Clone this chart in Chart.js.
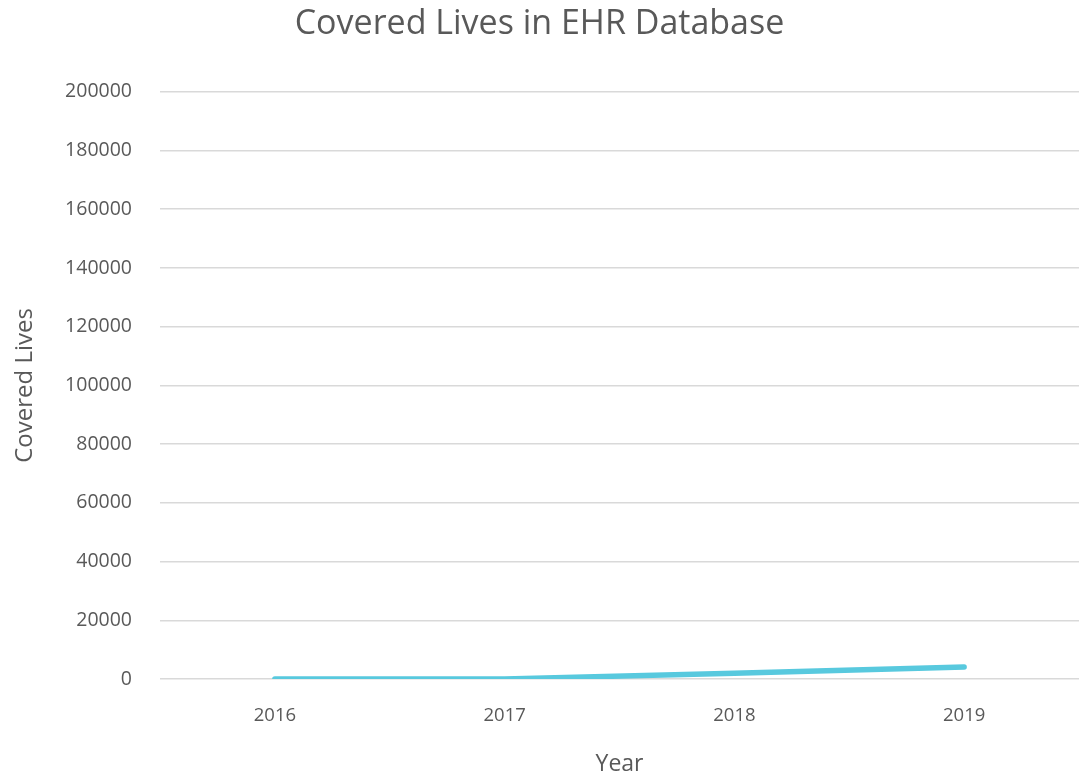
<!DOCTYPE html>
<html>
<head>
<meta charset="utf-8">
<script src="https://cdn.jsdelivr.net/npm/chart.js@4/dist/chart.umd.min.js"></script>
<style>
	html, body { margin: 0; padding: 0; background: #ffffff; }
	#wrap { width: 1079px; height: 775px; }
</style>
</head>
<body>
<div id="wrap"><canvas id="ehrChart" width="1079" height="775"></canvas></div>
<script>
// 연도별 커버 인원
const years = ['2016', '2017', '2018', '2019'];
const coveredLives = [0, 0, 2000, 4100];
const yTicks = [0, 20000, 40000, 60000, 80000, 100000, 120000, 140000, 160000, 180000, 200000];

const textColor = '#595959';
const fontFamily = '"Open Sans", "Noto Sans", sans-serif';

const chart = new Chart(document.getElementById('ehrChart'), {
	type: 'line',
	data: {
		labels: years,
		datasets: [{
			label: 'Covered Lives',
			data: coveredLives,
			borderColor: '#58c9de',
			borderWidth: 5.5,
			borderCapStyle: 'round',
			borderJoinStyle: 'round',
			pointRadius: 0,
			tension: 0,
			fill: false
		}]
	},
	options: {
		responsive: false,
		animation: false,
		layout: { padding: { top: 0, right: 0, bottom: 0, left: 0 } },
		plugins: {
			legend: { display: false },
			tooltip: { enabled: false },
			title: {
				display: true,
				text: 'Covered Lives in EHR Database',
				color: textColor,
				font: { family: fontFamily, size: 34, weight: 'normal' },
				padding: { top: 4, bottom: 47 }
			}
		},
		scales: {
			x: {
				offset: true,
				grid: { display: false, drawTicks: false },
				border: { display: false },
				ticks: { color: textColor, padding: 26, font: { family: fontFamily, size: 18.5 } },
				title: {
					display: true,
					text: 'Year',
					color: textColor,
					font: { family: fontFamily, size: 23 },
					padding: { top: 22, bottom: -3 }
				},
				afterFit: s => { s.height = 96; }
			},
			y: {
				min: 0,
				max: 200000,
				afterBuildTicks: s => { s.ticks = yTicks.map(v => ({ value: v })); },
				grid: { color: '#d9d9d9', lineWidth: 1.5, drawTicks: false },
				border: { display: false },
				ticks: {
					color: textColor,
					padding: 28,
					font: { family: fontFamily, size: 19.5 },
					callback: v => String(v)
				},
				title: {
					display: true,
					text: 'Covered Lives',
					color: textColor,
					font: { family: fontFamily, size: 24 },
					padding: { top: 11, bottom: 0 }
				},
				afterFit: s => { s.width = 160; }
			}
		}
	}
});
</script>
</body>
</html>
